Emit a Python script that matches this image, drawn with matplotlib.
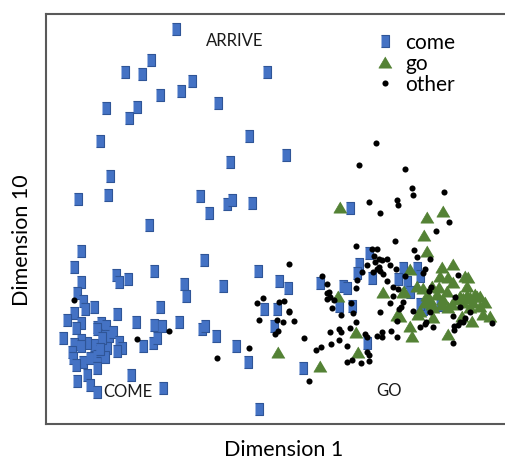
import matplotlib
matplotlib.use("Agg")
import matplotlib.pyplot as plt
import numpy as np

# positions (pixel-like units, y grows downwards)
come = [(176,30),(151,61),(125,73),(142,75),(267,73),(192,82),(181,92),(160,96),(218,104),
        (106,109),(137,108),(129,119),(249,137),(100,142),(230,163),(110,177),(78,200),(108,196),
        (200,197),(227,205),(232,201),(252,204),(209,214),(286,156),(350,209),(149,226),(81,252),
        (74,268),(81,283),(116,276),(119,283),(128,280),(154,272),(204,261),(258,272),(279,282),
        (184,285),(223,287),(186,297),(77,294),(83,302),(85,310),(94,308),(74,314),(67,321),
        (81,324),(76,329),(63,339),(117,315),(160,308),(136,323),(154,326),(162,327),(179,323),
        (202,330),(205,327),(216,337),(277,310),(274,327),(97,328),(101,324),(106,327),(102,337),
        (109,337),(113,333),(94,346),(87,344),(81,341),(74,345),(81,347),(72,353),(73,359),
        (83,363),(76,366),(90,359),(97,357),(100,352),(107,349),(105,358),(119,343),(122,349),
        (117,352),(97,369),(87,376),(77,382),(90,386),(97,393),(131,376),(143,347),(153,344),
        (157,339),(236,347),(248,363),(163,389),(259,410),(288,289),(264,310),(320,284),(303,369),
        (369,254),(359,265),(357,274),(372,279),(403,269),(417,269),(420,277),(398,280),(407,283),
        (410,293),(343,287),(347,289),(339,307),(352,307),(367,344),(423,310),(440,306),(420,305),
        (97,330),(102,339),(100,350)]
go = [(340,208),(427,218),(443,212),(424,236),(427,252),(453,265),(442,268),(440,277),(448,278),
      (453,283),(465,277),(468,278),(467,287),(410,270),(417,287),(423,289),(432,287),(439,288),
      (404,292),(427,296),(437,295),(447,292),(460,297),(467,296),(475,295),(480,297),(485,303),
      (432,305),(442,305),(452,305),(463,303),(473,303),(425,303),(420,312),(433,308),(448,308),
      (470,308),(480,307),(483,315),(490,317),(472,322),(462,317),(433,318),(418,315),(410,327),
      (448,335),(412,337),(400,317),(383,293),(403,293),(338,297),(356,333),(358,353),(278,353),
      (320,367),(397,316),(456,300),(463,299),(470,298),(477,297),(443,300),(430,300)]
other = [(376,144),(359,166),(405,170),(412,189),(413,196),(444,193),(369,203),(397,201),(398,206),
         (380,214),(449,223),(436,232),(74,301),(137,340),(169,332),(217,359),(249,349),(257,304),
         (263,299),(259,321),(277,321),(275,335),(289,265),(322,277),(327,285),(279,303),(284,302),
         (289,312),(283,323),(294,322),(278,332),(304,339),(316,351),(321,348),(309,382),(327,300),
         (329,293),(395,242),(356,247),(414,251),(417,258),(430,260),(372,250),(377,250),(374,257),
         (379,260),(382,261),(387,260),(367,266),(375,263),(390,266),(396,270),(377,270),(380,272),
         (373,273),(379,268),(383,275),(387,282),(405,277),(425,270),(423,274),(362,273),(357,281),
         (356,289),(393,288),(398,290),(393,297),(390,304),(403,303),(399,310),(327,294),(330,298),
         (334,301),(332,309),(341,316),(351,304),(353,314),(380,313),(289,313),(330,333),(339,330),
         (341,333),(339,341),(331,345),(350,329),(356,323),(365,335),(367,338),(347,347),(377,337),
         (382,333),(382,338),(391,332),(397,338),(367,353),(369,356),(347,363),(352,361),(361,364),
         (369,362),(397,322),(413,312),(420,328),(425,325),(433,328),(453,317),(454,327),(453,344),
         (458,276),(470,313),(463,323),(492,324),(455,298),(460,308),(430,313),(426,323),(431,288),
         (429,292),(458,326),(454,331),(465,319),(460,323),(401,308)]

labels = ["come", "go", "other"]
regions = [("ARRIVE", 235, 41), ("COME", 128, 392), ("GO", 389, 391)]

plt.rcParams['font.family'] = ['Lato', 'DejaVu Sans']

fig = plt.figure(figsize=(5.06, 4.6), dpi=100)
# axes run past the right edge of the picture, as in the reference
ax = fig.add_axes([46/506, 35/460, 470/506, 410/460])

rect = [(-0.8, -1), (0.8, -1), (0.8, 1), (-0.8, 1)]
tri = [(0, 0.85), (-1, -0.85), (1, -0.85)]

c = np.array(come)
g = np.array(go)
o = np.array(other)
ax.plot(c[:, 0], c[:, 1], ls='none', marker=rect, ms=8, mfc='#4472C4', mec='#2F5597',
        mew=0.8, label=labels[0])
ax.plot(g[:, 0], g[:, 1], ls='none', marker=tri, ms=9.5, mfc='#548235', mec='#548235',
        mew=0.5, label=labels[1])
ax.plot(o[:, 0], o[:, 1], ls='none', marker='o', ms=4.4, mfc='black', mec='black',
        mew=0, label=labels[2])

for txt, x, y in regions:
    ax.text(x, y, txt, ha='center', va='center', fontsize=12, color='#1a1a1a')

ax.set_xlim(46, 516)
ax.set_ylim(425, 15)
ax.set_xticks([])
ax.set_yticks([])
ax.spines['right'].set_visible(False)
for s in ['left', 'top', 'bottom']:
    ax.spines[s].set_color('#595959')
    ax.spines[s].set_linewidth(1.5)

ax.legend(loc='upper left', bbox_to_anchor=(376/506, 1 - 33/460),
          bbox_transform=fig.transFigure, frameon=False, fontsize=15,
          borderpad=0, borderaxespad=0, handlelength=0.9, handletextpad=0.5,
          labelspacing=0.05)

fig.text(284/506, 1 - 450/460, "Dimension 1", ha='center', va='center', fontsize=15.5)
fig.text(22/506, 1 - 240/460, "Dimension 10", ha='center', va='center', fontsize=15.5,
         rotation=90)

fig.savefig("out.png", dpi=100)
